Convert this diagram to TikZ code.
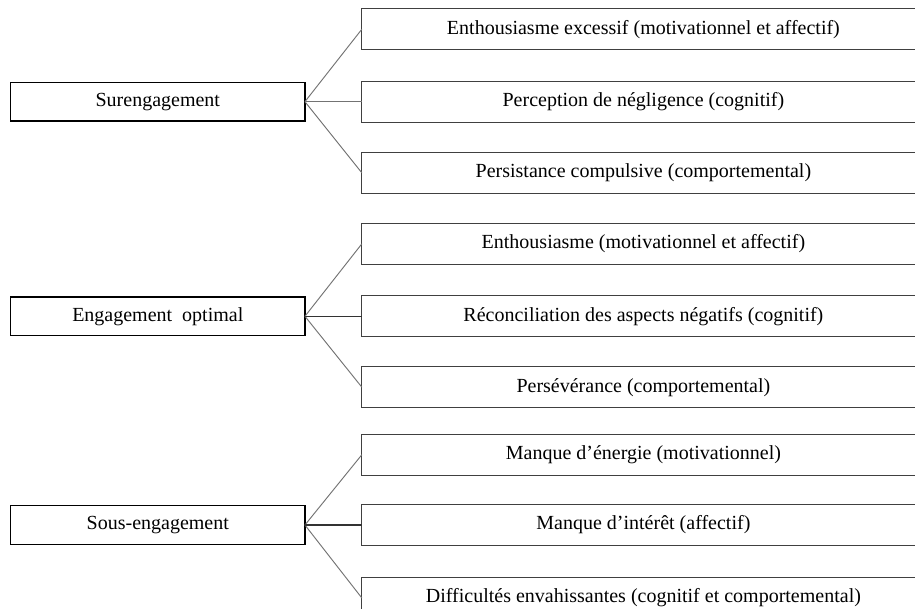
\documentclass[tikz,border=0pt]{standalone}
\usepackage{fontspec}
\setmainfont{Liberation Serif}
\begin{document}
\begin{tikzpicture}[x=0.75pt,y=-0.75pt,
  lbox/.style={draw=black, line width=1pt, rectangle, inner sep=0pt, outer sep=0pt,
    minimum width=220.7pt, minimum height=28.8pt, font=\fontsize{15pt}{17pt}\selectfont},
  rbox/.style={draw=black!75, line width=0.75pt, rectangle, inner sep=0pt, outer sep=0pt,
    minimum width=422.3pt, minimum height=30.6pt, font=\fontsize{15pt}{17pt}\selectfont},
  conn/.style={draw=black!55, line width=0.7pt},
  mconn/.style={draw=black!80, line width=0.8pt}]
\useasboundingbox (0,0) rectangle (915,609);
\clip (0,0) rectangle (915,609);
\fill[white] (0,0) rectangle (915,609);
% left boxes
\node[lbox] (L1) at (157.8,101.7) {Surengagement};
\node[lbox] (L2) at (157.8,316.3) {Engagement\ \ optimal};
\node[lbox] (L3) at (157.8,525) {Sous-engagement};
% right boxes
\node[rbox] (A1) at (643.4,29.2) {Enthousiasme excessif (motivationnel et affectif)};
\node[rbox] (A2) at (643.4,101.7) {Perception de négligence (cognitif)};
\node[rbox] (A3) at (643.4,172.9) {Persistance compulsive (comportemental)};
\node[rbox] (B1) at (643.4,243.8) {Enthousiasme (motivationnel et affectif)};
\node[rbox] (B2) at (643.4,316.3) {Réconciliation des aspects négatifs (cognitif)};
\node[rbox] (B3) at (643.4,387.2) {Persévérance (comportemental)};
\node[rbox] (C1) at (643.4,454.7) {Manque d’énergie (motivationnel)};
\node[rbox] (C2) at (643.4,525) {Manque d’intérêt (affectif)};
\node[rbox] (C3) at (643.4,598) {Difficultés envahissantes (cognitif et comportemental)};
% connectors
\foreach \l/\r in {L1/A1,L1/A2,L1/A3,L2/B1,L2/B3,L3/C1,L3/C3}
  \draw[conn] (\l.east) -- (\r.west);
\foreach \l/\r in {L2/B2,L3/C2}
  \draw[mconn] (\l.east) -- (\r.west);
\end{tikzpicture}
\end{document}
